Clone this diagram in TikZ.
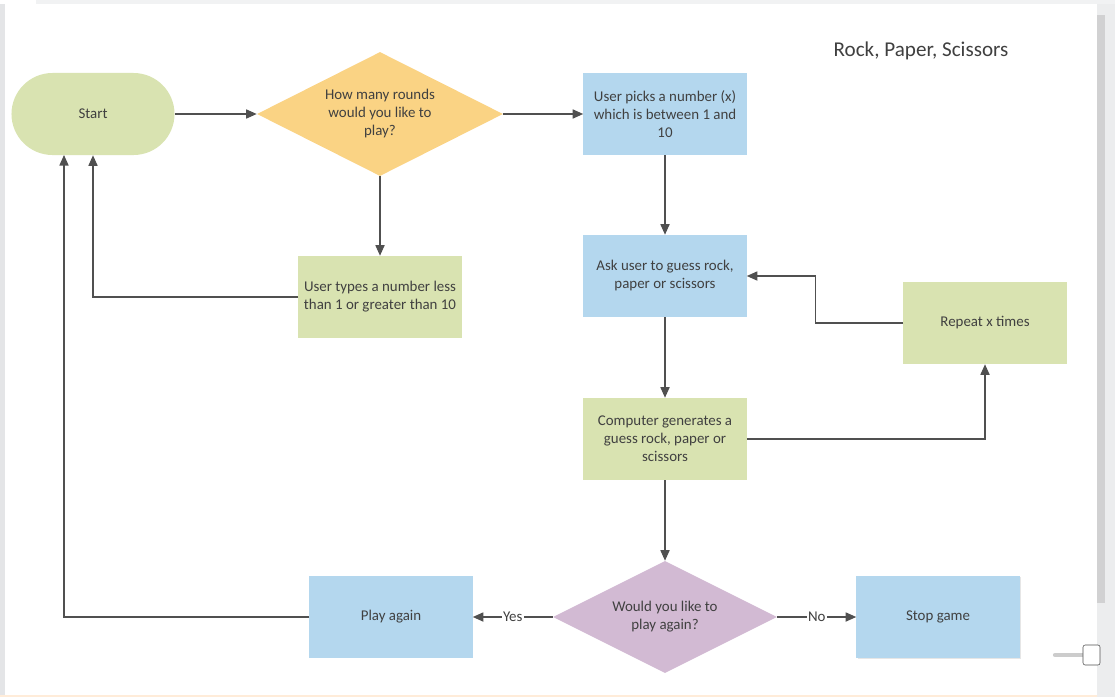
\documentclass[tikz,border=0pt]{standalone}
\usepackage{fontspec}
\setmainfont{Carlito}
\usetikzlibrary{shapes.geometric,arrows.meta,shadows}
\definecolor{greenbox}{HTML}{D9E3B1}
\definecolor{orangebox}{HTML}{FAD384}
\definecolor{bluebox}{HTML}{B4D7EE}
\definecolor{purplebox}{HTML}{D2BAD3}
\definecolor{linegray}{HTML}{505050}
\definecolor{textgray}{HTML}{404040}
\definecolor{chromegray}{HTML}{E4E5E7}

\begin{document}
\begin{tikzpicture}[x=0.025cm,y=-0.025cm,
  box/.style={minimum width=4.075cm,minimum height=2.05cm,inner sep=2pt,align=center,text=textgray,font=\fontsize{10.6}{12.8}\selectfont},
  choice/.style={diamond,aspect=2,inner sep=0pt,align=center,text=textgray,font=\fontsize{10.6}{12.8}\selectfont},
  line/.style={draw=linegray,line width=0.9pt,-{Triangle[length=7.5pt,width=6.5pt]}},
  tag/.style={fill=white,inner sep=1pt,text=textgray,font=\fontsize{10.6}{12.8}\selectfont}]
\useasboundingbox (0,0) rectangle (1115,697);
% window frame
\fill[chromegray] (0,4) rectangle (5,697);
\fill[chromegray!50] (36,0) rectangle (1115,4);
\fill[chromegray!70] (1097,4) rectangle (1115,697);
\fill[chromegray!50!gray!60] (1097,15) rectangle (1105,603);
\fill[orange!15] (0,695) rectangle (1097,697);
\draw[line width=3pt,gray!40,line cap=round] (1055,655) -- (1085,655);
\draw[fill=white,draw=linegray,rounded corners=1.5pt] (1083,645) rectangle (1100,665);
% shapes
\node[box,fill=greenbox,rounded corners=1.025cm] (start) at (93,114) {Start};
\node[choice,fill=orangebox,minimum width=6.15cm,minimum height=3.1cm] (rounds) at (380,114) {How many rounds\\would you like to\\play?};
\node[box,fill=bluebox] (picks) at (665,114) {User picks a number (x)\\which is between 1 and\\10};
\node[box,fill=greenbox] (types) at (380,297) {User types a number less\\than 1 or greater than 10};
\node[box,fill=bluebox] (ask) at (665,276) {Ask user to guess rock,\\paper or scissors};
\node[box,fill=greenbox] (repeat) at (985,323) {Repeat x times};
\node[box,fill=greenbox] (comp) at (665,439) {Computer generates a\\guess rock, paper or\\scissors};
\node[choice,fill=purplebox,minimum width=5.6cm,minimum height=2.8cm] (again) at (665,617) {Would you like to\\play again?};
\node[box,fill=bluebox] (play) at (391,617) {Play again};
\node[box,fill=bluebox,drop shadow={shadow xshift=1pt,shadow yshift=-1pt,opacity=0.2}] (stop) at (938,617) {Stop game};
\node[text=textgray,font=\fontsize{15}{17}\selectfont] (title) at (921,51) {Rock, Paper, Scissors};
\coordinate (back) at (64,155);
% connectors
\draw[line] (start.east) -- (rounds.west);
\draw[line] (rounds.east) -- (picks.west);
\draw[line] (rounds.south) -- (types.north);
\draw[line] (types.west) -| (start.south);
\draw[line] (picks.south) -- (ask.north);
\draw[line] (ask.south) -- (comp.north);
\draw[line] (comp.east) -| (repeat.south);
\draw[line] (repeat.west) -- ++(-88,0) |- (ask.east);
\draw[line] (comp.south) -- (again.north);
\draw[line] (again.west) -- node[tag]{Yes} (play.east);
\draw[line] (again.east) -- node[tag]{No} (stop.west);
\draw[line] (play.west) -| (back);
\end{tikzpicture}
\end{document}
